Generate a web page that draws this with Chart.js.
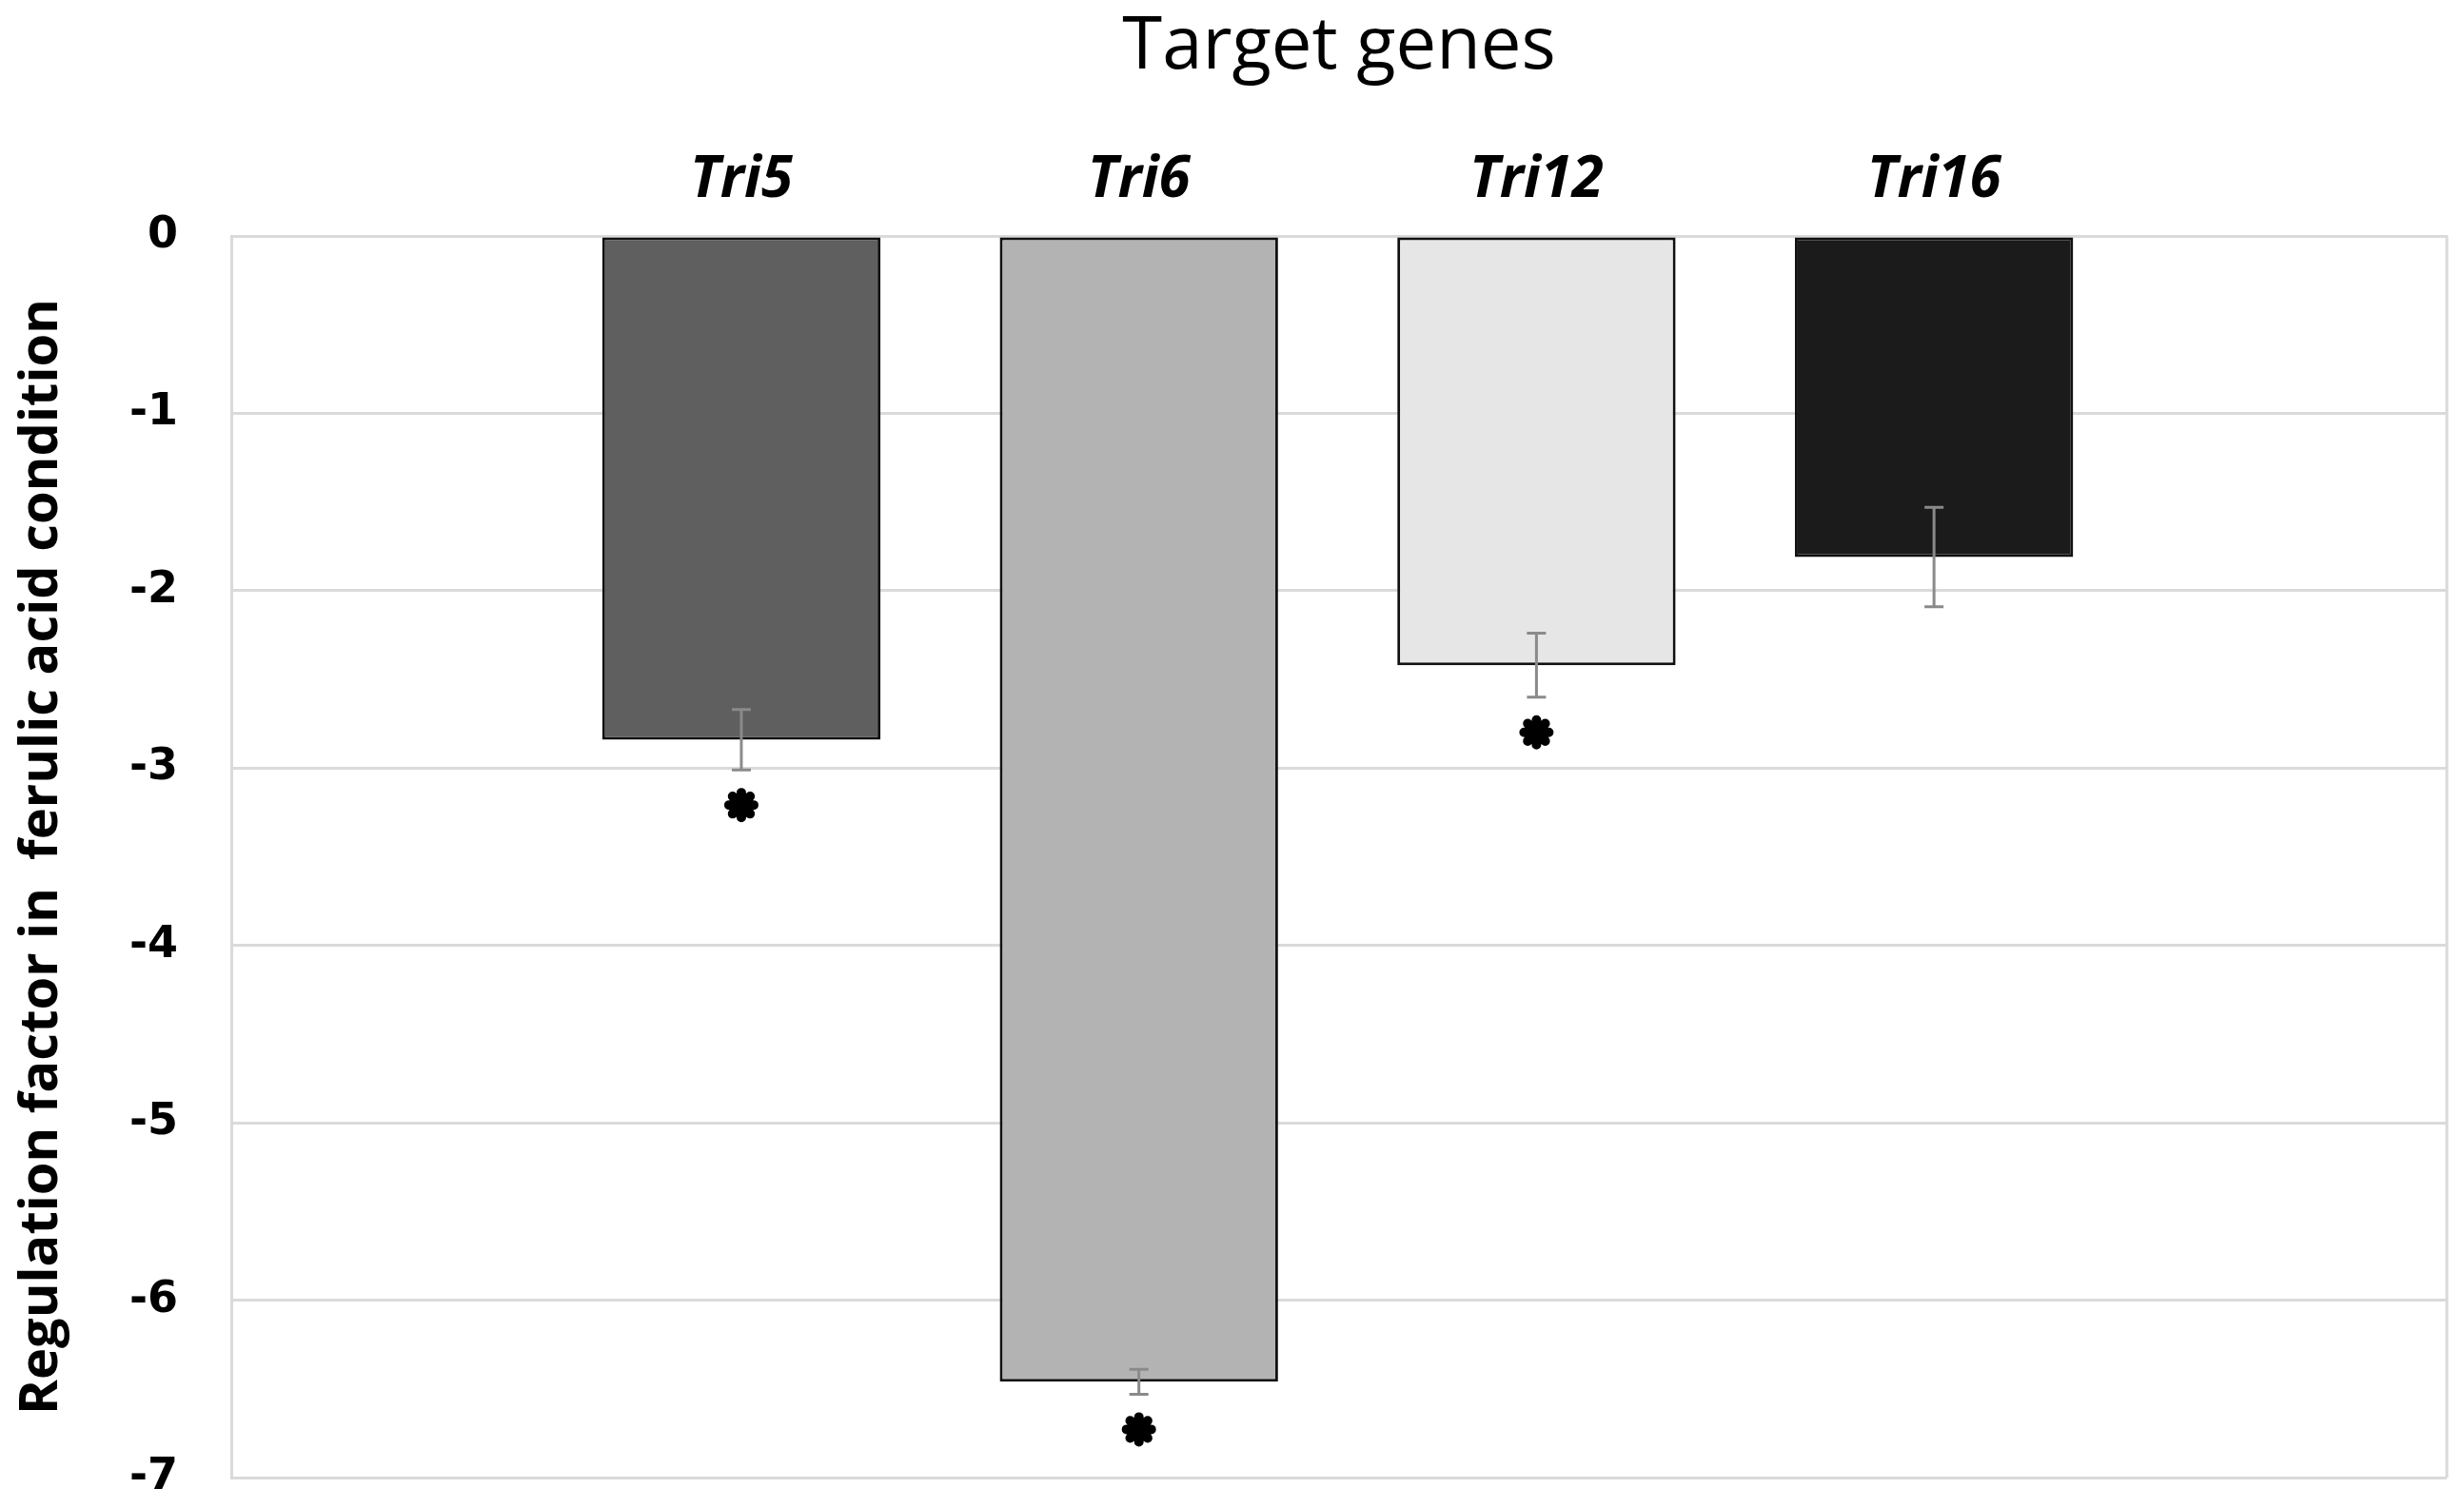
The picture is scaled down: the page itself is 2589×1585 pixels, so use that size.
<!DOCTYPE html>
<html>
<head>
<meta charset="utf-8">
<script src="https://cdn.jsdelivr.net/npm/chart.js@4.4.0/dist/chart.umd.min.js"></script>
<style>
    html, body { margin: 0; padding: 0; background: #fff; overflow: hidden; }
    #gene_chart { display: block; }
</style>
</head>
<body>
<canvas id="gene_chart" width="2589" height="1585"></canvas>
<script>
// Données
const genes = ["Tri5", "Tri6", "Tri12", "Tri16"];
const positions = [1, 2, 3, 4];
const regulation = [-2.84, -6.46, -2.42, -1.81];
const errors = [0.17, 0.07, 0.18, 0.28];
const significant = [true, true, true, false];
const barColors = ["#5f5f5f", "#b3b3b3", "#e6e6e6", "#1b1b1b"];
const yTicks = [0, -1, -2, -3, -4, -5, -6, -7];

const gridColor = "#dadada";

// Astérisque épais à 8 branches
function drawStar(ctx, x, y) {
    ctx.save();
    ctx.fillStyle = "#000";
    ctx.strokeStyle = "#000";
    ctx.lineWidth = 10;
    ctx.lineCap = "round";
    ctx.beginPath();
    ctx.arc(x, y, 10, 0, Math.PI * 2);
    ctx.fill();
    ctx.beginPath();
    for (let k = 0; k < 4; k++) {
        const a = (k * Math.PI) / 4;
        const dx = Math.sin(a) * 13;
        const dy = Math.cos(a) * 13;
        ctx.moveTo(x - dx, y - dy);
        ctx.lineTo(x + dx, y + dy);
    }
    ctx.stroke();
    ctx.restore();
}

// Titre, barres d'erreur, astérisques, bord droit
const extrasPlugin = {
    id: "extras",
    afterDatasetsDraw(chart) {
        const ctx = chart.ctx;
        const yScale = chart.scales.y;
        const meta = chart.getDatasetMeta(0);
        const area = chart.chartArea;
        ctx.save();
        meta.data.forEach((bar, i) => {
            const x = bar.x;
            const yTop = yScale.getPixelForValue(regulation[i] + errors[i]);
            const yBot = yScale.getPixelForValue(regulation[i] - errors[i]);
            ctx.strokeStyle = "#8a8a8a";
            ctx.lineWidth = 3;
            ctx.beginPath();
            ctx.moveTo(x, yTop);
            ctx.lineTo(x, yBot);
            ctx.moveTo(x - 10, yTop);
            ctx.lineTo(x + 10, yTop);
            ctx.moveTo(x - 10, yBot);
            ctx.lineTo(x + 10, yBot);
            ctx.stroke();
            if (significant[i]) {
                drawStar(ctx, x, yBot + 37);
            }
        });
        ctx.strokeStyle = gridColor;
        ctx.lineWidth = 3;
        ctx.beginPath();
        ctx.moveTo(area.right, area.top);
        ctx.lineTo(area.right, area.bottom);
        ctx.stroke();

        ctx.fillStyle = "#000";
        ctx.font = "normal 76px 'Open Sans'";
        ctx.textAlign = "center";
        ctx.textBaseline = "alphabetic";
        ctx.fillText("Target genes", (area.left + area.right) / 2, 72);
        ctx.restore();
    },
};

var ctxGenes = document.getElementById("gene_chart").getContext("2d");

new Chart(ctxGenes, {
    type: "bar",
    data: {
        datasets: [
            {
                data: positions.map((p, i) => ({ x: p, y: regulation[i] })),
                backgroundColor: barColors,
                borderColor: "#111111",
                borderWidth: 3,
                borderSkipped: false,
                barPercentage: 0.7,
                categoryPercentage: 1.0,
            },
        ],
    },
    options: {
        responsive: false,
        maintainAspectRatio: false,
        devicePixelRatio: 1,
        animation: false,
        layout: { padding: { left: 0, right: 18, top: 92, bottom: 32 } },
        plugins: {
            legend: { display: false },
            tooltip: { enabled: false },
            title: { display: false },
        },
        scales: {
            x: {
                type: "linear",
                position: "top",
                offset: false,
                bounds: "data",
                min: -0.283,
                max: 5.29,
                afterBuildTicks: (scale) => {
                    scale.ticks = positions.map((p) => ({ value: p }));
                },
                afterFit: (scale) => {
                    scale.height = 156;
                },
                grid: { display: false, drawTicks: false, offset: false },
                border: { display: true, color: gridColor, width: 3 },
                ticks: {
                    autoSkip: false,
                    maxRotation: 0,
                    padding: 22,
                    color: "#000",
                    font: { family: "'Open Sans'", size: 60, weight: "bold", style: "italic" },
                    callback: (value) => genes[positions.indexOf(value)] || "",
                },
            },
            y: {
                min: -7,
                max: 0,
                afterBuildTicks: (scale) => {
                    scale.ticks = yTicks.map((v) => ({ value: v }));
                },
                afterFit: (scale) => {
                    scale.width = 243;
                    scale.paddingTop = 0;
                    scale.paddingBottom = 0;
                },
                grid: { color: gridColor, lineWidth: 3, drawTicks: false },
                border: { display: true, color: gridColor, width: 3 },
                ticks: {
                    padding: 56,
                    color: "#000",
                    font: { family: "'DejaVu Sans'", size: 46, weight: "bold" },
                },
                title: {
                    display: true,
                    text: "Regulation factor in  ferulic acid condition",
                    color: "#000",
                    font: { family: "'Open Sans'", size: 56, weight: "bold" },
                    padding: { top: 10, bottom: 0 },
                },
            },
        },
    },
    plugins: [extrasPlugin],
});
</script>
</body>
</html>
